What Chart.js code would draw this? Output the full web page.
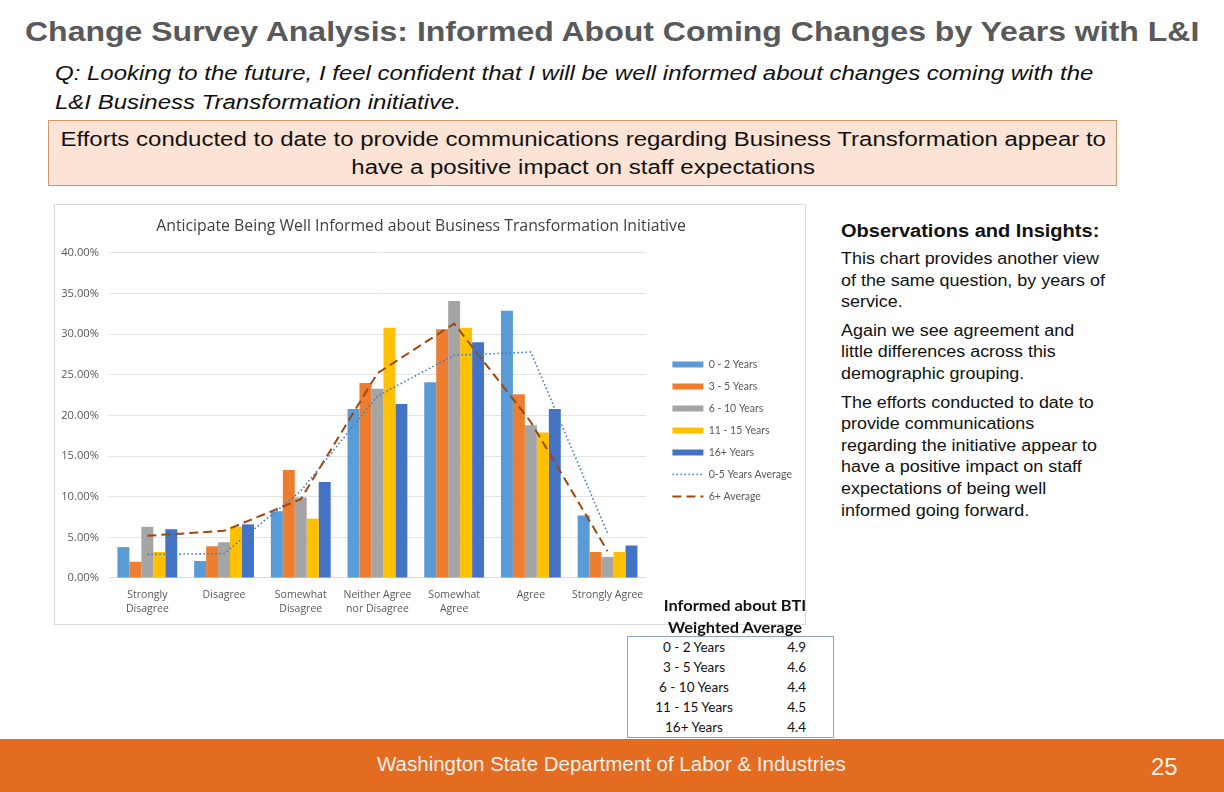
<!DOCTYPE html>
<html>
<head>
<meta charset="utf-8">
<script src="https://cdn.jsdelivr.net/npm/chart.js@4/dist/chart.umd.min.js"></script>
<style>
  html, body { margin:0; padding:0; background:#fff; }
  body { width:1224px; height:792px; position:relative; overflow:hidden; font-family:"Liberation Sans", Arial, sans-serif; }
  .abs { position:absolute; }
  .sx { display:inline-block; transform-origin:0 0; white-space:nowrap; }
  #title { left:25px; top:16px; font-size:28px; font-weight:bold; color:#595959; white-space:nowrap; }
  #title .sx { transform:scaleX(1.143); }
  #question { left:55px; top:59px; font-size:20px; font-style:italic; color:#111; line-height:29px; white-space:nowrap; }
  #question .sx { transform:scaleX(1.199); }
  #callout { left:48px; top:120px; width:1067px; height:60px; background:#FBE4D5; border:1px solid #D5946A; font-size:20px; color:#111; line-height:28px; padding-top:4px; }
  #callout .sx { transform:scaleX(1.2); transform-origin:0 0; position:absolute; left:11px; top:4px; text-align:center; width:872px; }
  #chartBox { left:54px; top:204px; width:750px; height:419px; border:1px solid #D9D9D9; background:#fff; }
  #obs { left:841px; top:220px; width:300px; color:#111; }
  #obs h3 { margin:0 0 6px 0; font-size:17.5px; font-weight:bold; line-height:22px; transform:scaleX(1.145); transform-origin:0 0; white-space:nowrap; }
  #obs p { margin:0 0 7px 0; font-size:16px; line-height:21.6px; transform:scaleX(1.12); transform-origin:0 0; white-space:nowrap; }
  #tblHead { left:640px; top:595px; width:190px; text-align:center; font-family:Lato, "Open Sans", sans-serif; font-weight:bold; font-size:14.5px; line-height:22px; color:#111; transform:scaleX(1.13); transform-origin:95px 0; }
  #tbl { left:627px; top:636px; width:205px; height:100px; border:1px solid #8FA3C0; background:#fff; }
  #tbl table { border-collapse:collapse; width:100%; font-family:Lato, "Open Sans", sans-serif; font-size:13.5px; color:#111; }
  #tbl td { height:20px; padding:0; line-height:20px; }
  #tbl td.l { text-align:center; width:132px; }
  #tbl td.r { text-align:right; padding-right:27px; }
  #footer { left:0; top:739px; width:1224px; height:53px; background:#E36C21; }
  #footText { left:377px; top:752px; font-size:20.5px; color:#F7F2EE; white-space:nowrap; }
  #pageNum { left:1151px; top:753px; font-size:24px; color:#F7F2EE; }
</style>
</head>
<body>
<div id="title" class="abs"><span class="sx">Change Survey Analysis: Informed About Coming Changes by Years with L&amp;I</span></div>
<div id="question" class="abs"><span class="sx">Q: Looking to the future, I feel confident that I will be well informed about changes coming with the<br>L&amp;I Business Transformation initiative.</span></div>
<div id="callout" class="abs"><span class="sx">Efforts conducted to date to provide communications regarding Business Transformation appear to<br>have a positive impact on staff expectations</span></div>
<div id="chartBox" class="abs"><canvas id="c" width="750" height="419"></canvas></div>
<div id="obs" class="abs">
  <h3>Observations and Insights:</h3>
  <p>This chart provides another view<br>of the same question, by years of<br>service.</p>
  <p>Again we see agreement and<br>little differences across this<br>demographic grouping.</p>
  <p>The efforts conducted to date to<br>provide communications<br>regarding the initiative appear to<br>have a positive impact on staff<br>expectations of being well<br>informed going forward.</p>
</div>
<div id="tblHead" class="abs">Informed about BTI<br>Weighted Average</div>
<div id="tbl" class="abs"><table id="wt"></table></div>
<div id="footer" class="abs"></div>
<div id="footText" class="abs">Washington State Department of Labor &amp; Industries</div>
<div id="pageNum" class="abs">25</div>
<script>
// ---- data ----
const categories = [["Strongly","Disagree"], "Disagree", ["Somewhat","Disagree"], ["Neither Agree","nor Disagree"], ["Somewhat","Agree"], "Agree", "Strongly Agree"];
const seriesNames = ["0 - 2 Years", "3 - 5 Years", "6 - 10 Years", "11 - 15 Years", "16+ Years", "0-5 Years Average", "6+ Average"];
const years0to2   = [3.8, 2.1, 8.2, 20.8, 24.1, 32.9, 7.7];
const years3to5   = [2.0, 3.9, 13.3, 24.0, 30.6, 22.6, 3.2];
const years6to10  = [6.3, 4.4, 9.9, 23.3, 34.1, 18.8, 2.6];
const years11to15 = [3.2, 6.3, 7.3, 30.8, 30.8, 17.9, 3.2];
const years16plus = [6.0, 6.6, 11.8, 21.4, 29.0, 20.8, 4.0];
const avg0to5     = [2.9, 3.0, 10.7, 22.4, 27.4, 27.8, 5.5];
const avg6plus    = [5.2, 5.8, 9.7, 25.2, 31.3, 19.2, 3.3];
const yTicks = [0, 5, 10, 15, 20, 25, 30, 35, 40];
const tableLabels = ["0 - 2 Years", "3 - 5 Years", "6 - 10 Years", "11 - 15 Years", "16+ Years"];
const tableValues = ["4.9", "4.6", "4.4", "4.5", "4.4"];

// ---- table ----
const wt = document.getElementById('wt');
tableLabels.forEach((l, i) => {
  const tr = document.createElement('tr');
  tr.innerHTML = '<td class="l">' + l + '</td><td class="r">' + tableValues[i] + '</td>';
  wt.appendChild(tr);
});

// ---- chart ----
const barColors = ["#5B9BD5", "#ED7D31", "#A5A5A5", "#FFC000", "#4472C4"];
const barSeries = [years0to2, years3to5, years6to10, years11to15, years16plus];
const datasets = barSeries.map((d, i) => ({
  type: 'bar', label: seriesNames[i], data: d, backgroundColor: barColors[i],
  borderWidth: 0, order: 2, pointStyle: 'rect',
  categoryPercentage: 0.78, barPercentage: 1.0
}));
datasets.push({
  type: 'line', label: seriesNames[5], data: avg0to5, borderColor: '#4A7EBB', backgroundColor: '#4A7EBB',
  borderWidth: 1.6, borderDash: [1.6, 2.4], pointRadius: 0, fill: false, tension: 0, order: 0, pointStyle: 'line'
});
datasets.push({
  type: 'line', label: seriesNames[6], data: avg6plus, borderColor: '#9E480E', backgroundColor: '#9E480E',
  borderWidth: 2, borderDash: [9, 5], pointRadius: 0, fill: false, tension: 0, order: 1, pointStyle: 'line'
});

const shiftLegend = {
  id: 'shiftLegend',
  afterLayout(chart) {
    const lg = chart.legend;
    if (!lg) return;
    lg.left += 15; lg.right += 15; lg.top += 16; lg.bottom += 16;
  }
};

const tickFont = { family: '"Open Sans", Lato, sans-serif', size: 10.5, lineHeight: 1.35 };
new Chart(document.getElementById('c'), {
  type: 'bar',
  data: { labels: categories, datasets },
  plugins: [shiftLegend],
  options: {
    responsive: false, animation: false,
    layout: { padding: { left: 0, right: 18, top: 0, bottom: 0 } },
    plugins: {
      title: { display: true, text: 'Anticipate Being Well Informed about Business Transformation Initiative',
        color: '#404040', font: { family: '"Open Sans", Lato, sans-serif', size: 15.8, weight: 'normal' },
        padding: { top: 12, bottom: 17 } },
      legend: { position: 'right', align: 'center',
        labels: { usePointStyle: true, pointStyleWidth: 31, boxHeight: 6, padding: 11.5,
          color: '#595959', font: { family: 'Lato, "Open Sans", sans-serif', size: 10.5 },
          sort: (a, b) => a.datasetIndex - b.datasetIndex,
          generateLabels: chart => {
            const items = Chart.defaults.plugins.legend.labels.generateLabels(chart);
            items.forEach(it => {
              const ds = chart.data.datasets[it.datasetIndex];
              if (ds.type === 'line') {
                it.lineDash = ds.borderDash; it.lineWidth = ds.borderWidth; it.strokeStyle = ds.borderColor;
              }
            });
            return items;
          } } },
      tooltip: { enabled: false }
    },
    scales: {
      x: { grid: { display: false, drawTicks: false }, border: { display: true, color: '#D9D9D9' },
        ticks: { color: '#595959', font: tickFont, padding: 10, maxRotation: 0, autoSkip: false },
        afterFit: s => { s.height = 46; } },
      y: { min: 0, max: 40, grid: { color: '#E3E3E3', drawTicks: false }, border: { display: false },
        afterBuildTicks: s => { s.ticks = yTicks.map(v => ({ value: v })); },
        ticks: { color: '#595959', font: { family: '"Open Sans", Lato, sans-serif', size: 11.2 }, padding: 10, callback: v => v.toFixed(2) + '%' },
        afterFit: s => { s.width = 54; } }
    }
  }
});
</script>
</body>
</html>
